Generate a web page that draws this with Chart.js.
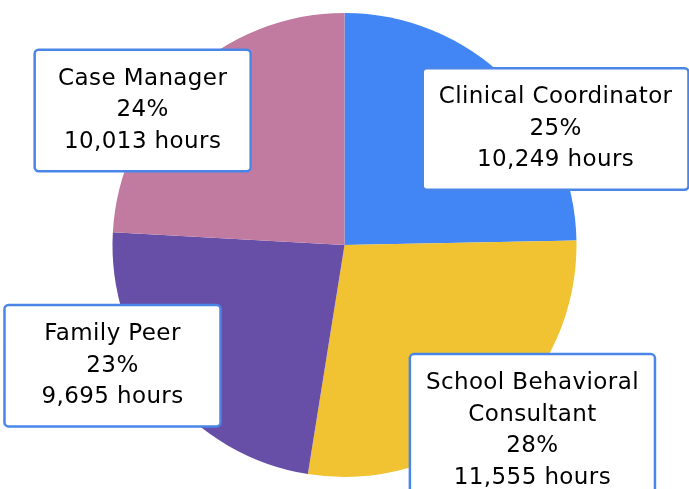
<!DOCTYPE html>
<html>
<head>
<meta charset="utf-8">
<script src="https://cdn.jsdelivr.net/npm/chart.js@4/dist/chart.umd.min.js"></script>
<style>
  html, body { margin: 0; padding: 0; background: #fff; }
  #wrap { width: 689px; height: 489px; position: relative; }
</style>
</head>
<body>
<div id="wrap"><canvas id="myChart"></canvas></div>
<script>
const roles = ['Clinical Coordinator', 'School Behavioral Consultant', 'Family Peer', 'Case Manager'];
const hours = [10249, 11555, 9695, 10013];
const percents = ['25%', '28%', '23%', '24%'];
const sliceColors = ['#4285f4', '#f1c232', '#674ea7', '#c27ba0'];

// label lines as they are wrapped in the picture
const labelLines = [
  ['Clinical Coordinator'],
  ['School Behavioral', 'Consultant'],
  ['Family Peer'],
  ['Case Manager']
];
// where each label box sits, in pie radii from the centre
const labelAnchors = [[0.91, -0.50], [0.81, 0.80], [-1.0, 0.52], [-0.87, -0.58]];

const boxLabels = {
  id: 'boxLabels',
  afterDraw(chart) {
    const ctx = chart.ctx;
    const arcs = chart.getDatasetMeta(0).data;
    const lineH = 31.5;
    ctx.save();
    ctx.font = '23px "DejaVu Sans"';
    ctx.letterSpacing = '0.4px';
    ctx.textAlign = 'center';
    ctx.textBaseline = 'middle';
    arcs.forEach((arc, i) => {
      const r = arc.outerRadius;
      const cx = arc.x + labelAnchors[i][0] * r;
      const cy = arc.y + labelAnchors[i][1] * r;
      const lines = labelLines[i].concat([percents[i], hours[i].toLocaleString('en-US') + ' hours']);
      const textW = Math.max(...lines.map(l => ctx.measureText(l).width));
      const w = Math.max(textW + 32, 216);
      const h = lines.length * lineH + 27;
      const x = cx - w / 2, y = cy - h / 2;
      ctx.beginPath();
      ctx.roundRect(x, y, w, h, 4);
      ctx.fillStyle = '#fff';
      ctx.fill();
      ctx.lineWidth = 2.5;
      ctx.strokeStyle = '#4a86e8';
      ctx.stroke();
      ctx.fillStyle = '#000';
      lines.forEach((l, j) => {
        ctx.fillText(l, cx, y + 13.5 + lineH / 2 + j * lineH);
      });
    });
    ctx.restore();
  }
};

const ctx = document.getElementById('myChart').getContext('2d');

const myChart = new Chart(ctx, {
  type: 'pie',
  data: {
    labels: roles,
    datasets: [{
      data: hours,
      backgroundColor: sliceColors,
      borderWidth: 0
    }]
  },
  options: {
    responsive: true,
    maintainAspectRatio: false,
    animation: false,
    layout: { padding: { top: 13, bottom: 12 } },
    plugins: {
      legend: { display: false },
      tooltip: { enabled: false }
    }
  },
  plugins: [boxLabels]
});
</script>
</body>
</html>
